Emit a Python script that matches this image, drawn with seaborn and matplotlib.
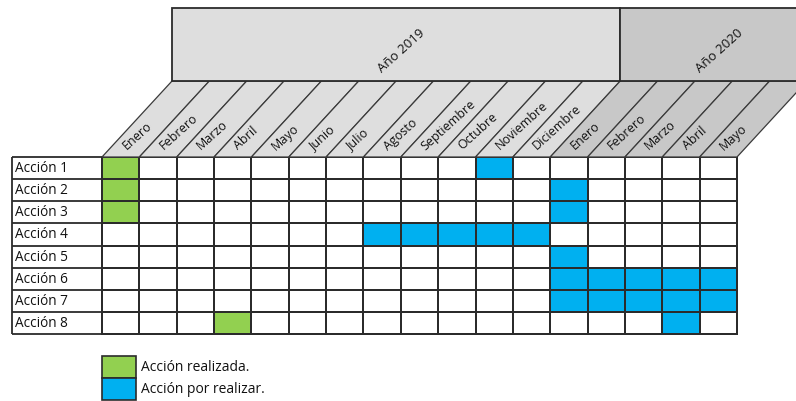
import matplotlib
matplotlib.use("Agg")
import matplotlib.pyplot as plt
from matplotlib.colors import ListedColormap
from matplotlib.patches import Polygon, Rectangle
import numpy as np
import seaborn as sns

# ---------------- data ----------------
meses = ["Enero", "Febrero", "Marzo", "Abril", "Mayo", "Junio", "Julio", "Agosto",
         "Septiembre", "Octubre", "Noviembre", "Diciembre",
         "Enero", "Febrero", "Marzo", "Abril", "Mayo"]
anios = ["Año 2019"] * 12 + ["Año 2020"] * 5
acciones = ["Acción 1", "Acción 2", "Acción 3", "Acción 4",
            "Acción 5", "Acción 6", "Acción 7", "Acción 8"]
# 0 = sin actividad, 1 = acción realizada, 2 = acción por realizar
estado = [
    [1, 0, 0, 0, 0, 0, 0, 0, 0, 0, 2, 0, 0, 0, 0, 0, 0],
    [1, 0, 0, 0, 0, 0, 0, 0, 0, 0, 0, 0, 2, 0, 0, 0, 0],
    [1, 0, 0, 0, 0, 0, 0, 0, 0, 0, 0, 0, 2, 0, 0, 0, 0],
    [0, 0, 0, 0, 0, 0, 0, 2, 2, 2, 2, 2, 0, 0, 0, 0, 0],
    [0, 0, 0, 0, 0, 0, 0, 0, 0, 0, 0, 0, 2, 0, 0, 0, 0],
    [0, 0, 0, 0, 0, 0, 0, 0, 0, 0, 0, 0, 2, 2, 2, 2, 2],
    [0, 0, 0, 0, 0, 0, 0, 0, 0, 0, 0, 0, 2, 2, 2, 2, 2],
    [0, 0, 0, 1, 0, 0, 0, 0, 0, 0, 0, 0, 0, 0, 0, 2, 0],
]
leyenda = ["Acción realizada.", "Acción por realizar."]

# ---------------- style ----------------
W, H = 796, 401
VERDE, AZUL = "#92D050", "#00B0F0"
GRIS19, GRIS20 = "#DEDEDE", "#C8C8C8"
LINEA = "#2b2b2b"
FONT = "Open Sans"

sns.set_style("white")
plt.rcParams["font.family"] = [FONT, "DejaVu Sans"]

fig = plt.figure(figsize=(W / 100, H / 100), dpi=100)
gx0, gx1, gy0, gy1 = 102, 737, 157, 334  # grid box in pixels (top-left origin)
ax = fig.add_axes([gx0 / W, (H - gy1) / H, (gx1 - gx0) / W, (gy1 - gy0) / H])

colw = (gx1 - gx0) / len(meses)
rowh = (gy1 - gy0) / len(acciones)

def dx(px):
    return (px - gx0) / colw

def dy(py):
    return (py - gy0) / rowh

sns.heatmap(np.array(estado), ax=ax, cmap=ListedColormap(["white", VERDE, AZUL]),
            vmin=-0.5, vmax=2.5, cbar=False, linewidths=1.3, linecolor=LINEA,
            xticklabels=False, yticklabels=False, square=False)
ax.collections[0].set_clip_on(False)
for sp in ax.spines.values():
    sp.set_visible(False)
ax.set_xlabel("")
ax.set_ylabel("")

# ---------- slanted month header ----------
band_top = dy(81)
slant = 70 / colw
for i, (m, a) in enumerate(zip(meses, anios)):
    fc = GRIS19 if a == "Año 2019" else GRIS20
    poly = Polygon([(i, 0), (i + 1, 0), (i + 1 + slant, band_top), (i + slant, band_top)],
                   closed=True, facecolor=fc, edgecolor="#3a3a3a", lw=0.9,
                   clip_on=False, zorder=1)
    ax.add_patch(poly)
    ax.text(i + 0.5 + 0.15, -0.3, m, rotation=42, rotation_mode="anchor",
            ha="left", va="baseline", fontsize=9.0, color="#111111",
            clip_on=False, zorder=3)

# ---------- year boxes ----------
box_top = dy(8)
grupos = []
for i, a in enumerate(anios):
    if not grupos or grupos[-1][0] != a:
        grupos.append([a, i, i + 1])
    else:
        grupos[-1][2] = i + 1
for a, i0, i1 in grupos:
    fc = GRIS19 if a == "Año 2019" else GRIS20
    ax.add_patch(Rectangle((i0 + slant, band_top), i1 - i0, box_top - band_top,
                           facecolor=fc, edgecolor=LINEA, lw=1.3,
                           clip_on=False, zorder=1))
    ax.text((i0 + i1) / 2 + slant + 0.15, dy(51), a, rotation=42,
            ha="center", va="center", fontsize=9.5, color="#111111",
            clip_on=False, zorder=3)

# ---------- row label column ----------
lx = dx(12)
ax.hlines(np.arange(len(acciones) + 1), lx, 0, colors=LINEA, lw=1.3, clip_on=False)
ax.vlines(lx, 0, len(acciones), colors=LINEA, lw=1.3, clip_on=False)
for r, nombre in enumerate(acciones):
    ax.text(lx + 0.08, r + 0.52, nombre, ha="left", va="center",
            fontsize=9.8, color="#111111", clip_on=False)

# ---------- legend ----------
for k, (txt, col) in enumerate(zip(leyenda, [VERDE, AZUL])):
    y = len(acciones) + 1 + k
    ax.add_patch(Rectangle((0, y), 0.92, 1, facecolor=col, edgecolor=LINEA,
                           lw=1.2, clip_on=False))
    ax.text(1.05, y + 0.5, txt, ha="left", va="center", fontsize=10,
            color="#111111", clip_on=False)

ax.set_xlim(0, len(meses))
ax.set_ylim(len(acciones), 0)
fig.savefig("out.png", dpi=100, facecolor="white")
